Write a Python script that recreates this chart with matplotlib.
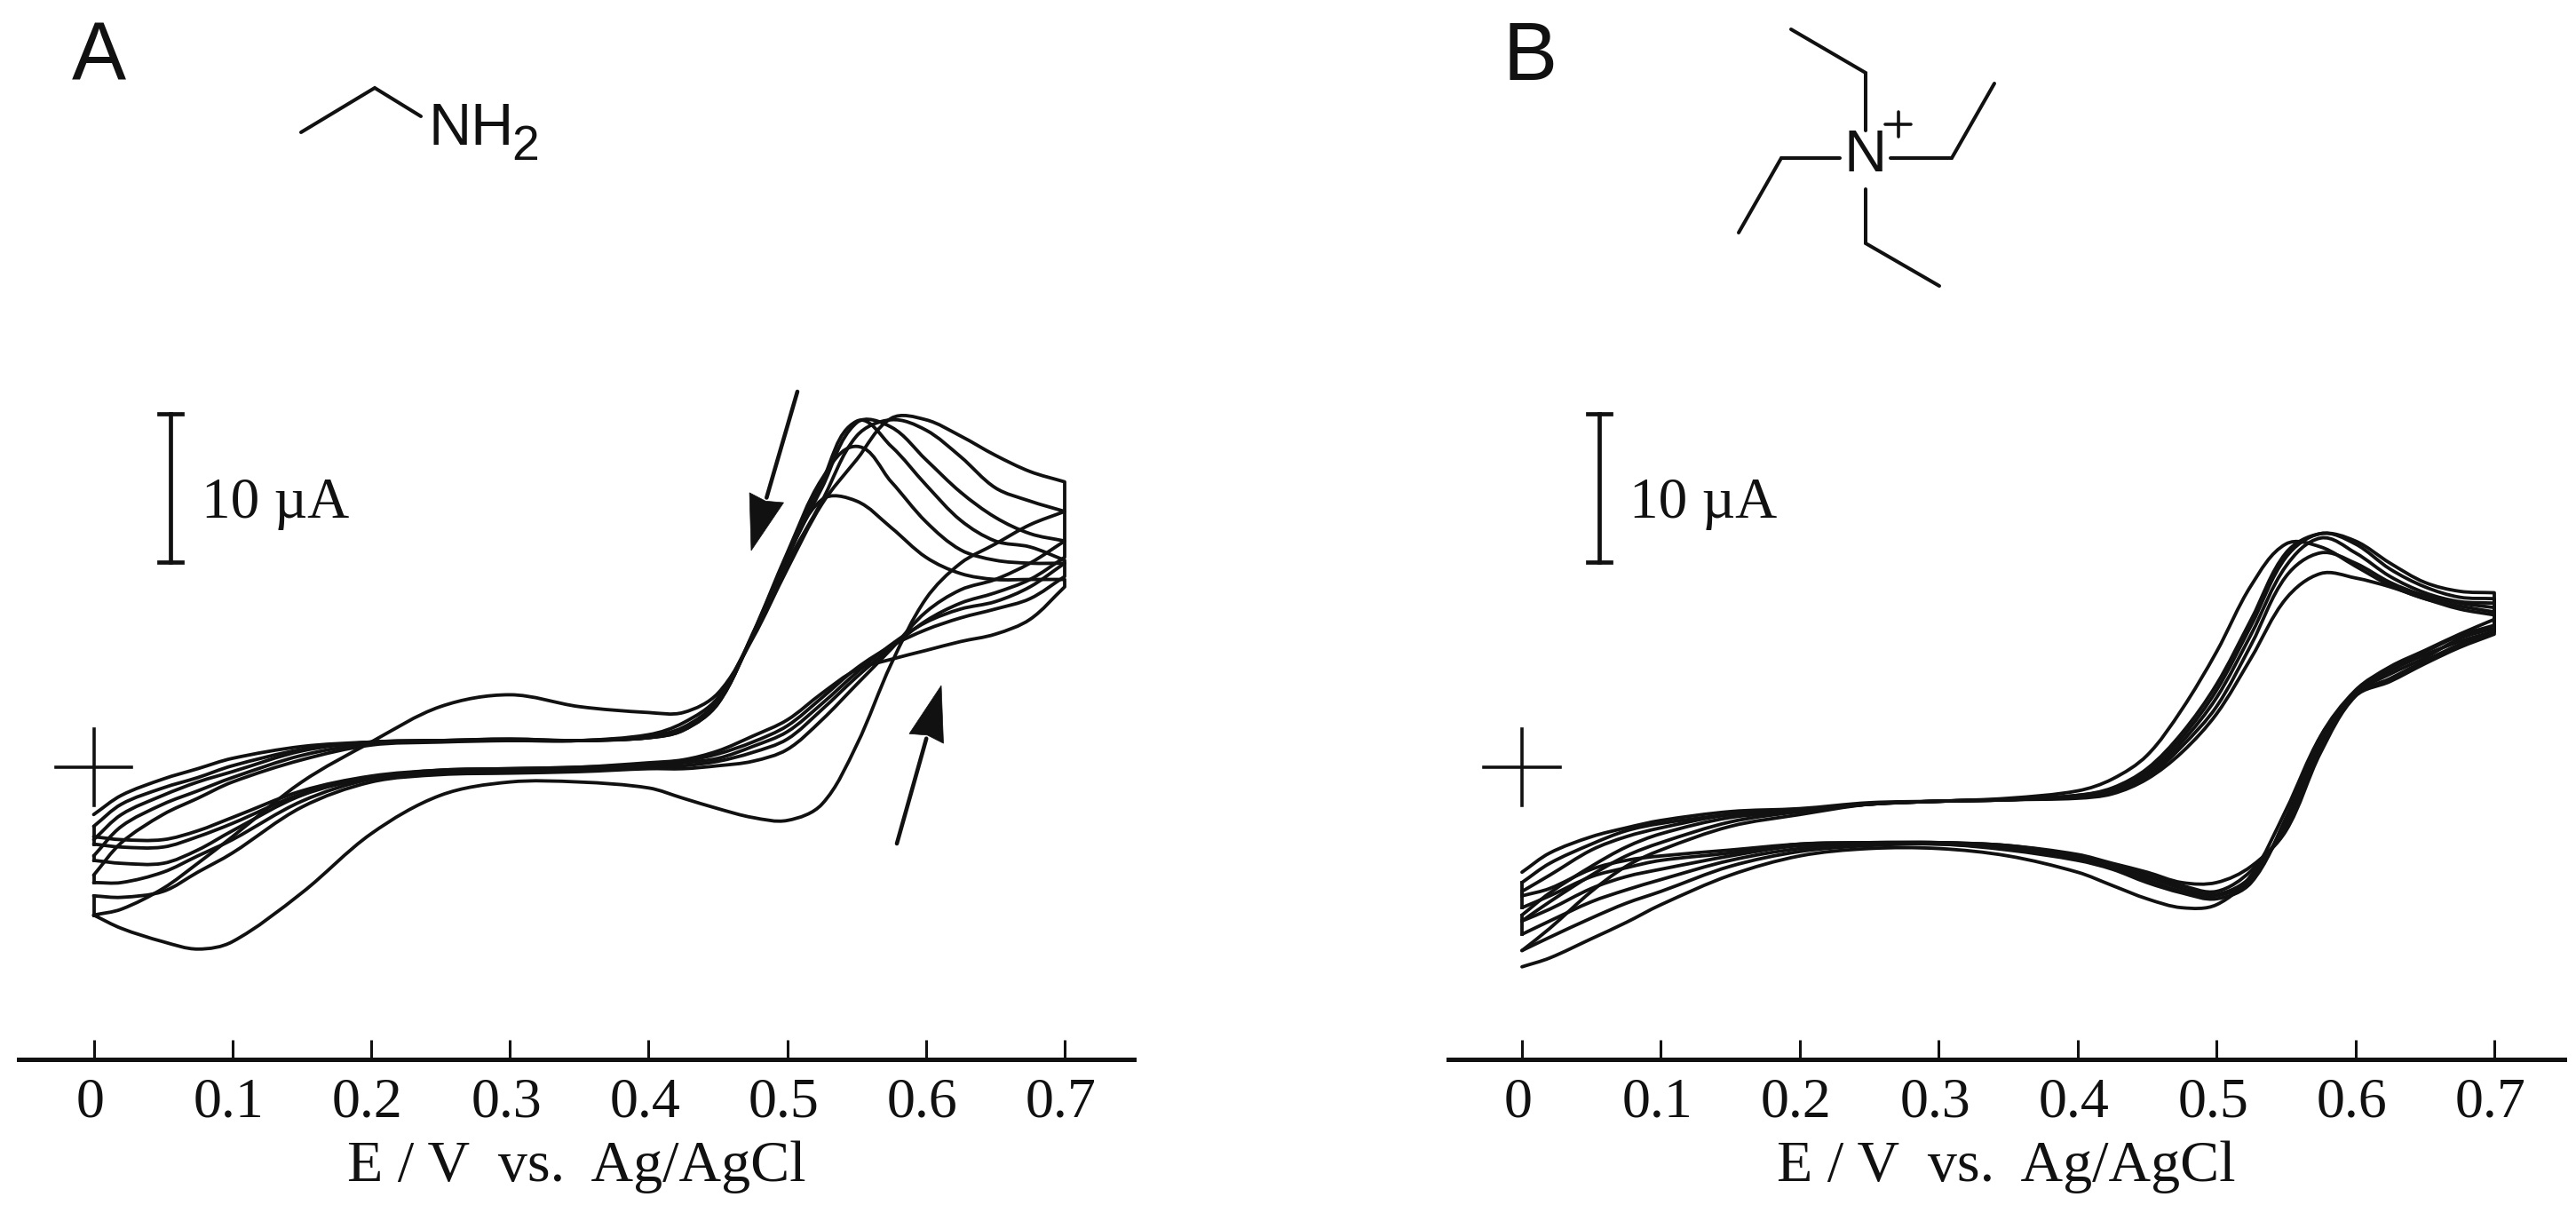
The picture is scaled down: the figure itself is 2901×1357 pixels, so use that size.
import matplotlib
matplotlib.use("Agg")
import matplotlib.pyplot as plt
import numpy as np
from matplotlib.lines import Line2D
from matplotlib.patches import Polygon, PathPatch
from matplotlib.path import Path
from matplotlib.transforms import Affine2D, ScaledTranslation

W, H = 2901, 1357
SERIF = "Liberation Serif"
SANS = "Liberation Sans"
INK = "#111111"

E_grid = [0, .02, .05, .075, .1, .15, .2, .25, .3, .35, .4, .425, .45, .475, .5, .525, .55, .575, .6, .625, .65, .675, .7]
tick_values = [0, .1, .2, .3, .4, .5, .6, .7]
tick_labels = ["0", "0.1", "0.2", "0.3", "0.4", "0.5", "0.6", "0.7"]
xlabel_text = "E / V  vs.  Ag/AgCl"
scale_text = "10 µA"

# Panel A: current (µA), cycle by cycle, on E_grid
A_forward_1 = [-10.0,-10.9,-11.8,-12.3,-11.8,-8.5,-4.5,-1.9,-1.0,-1.0,-1.4,-2.1,-2.8,-3.4,-3.6,-2.5,1.5,7.0,11.4,13.8,15.1,16.4,17.3]
A_reverse_1 = [-10.0,-9.6,-8.2,-6.5,-4.7,-1.0,1.7,4.1,4.9,4.1,3.7,3.7,5.0,8.7,13.4,17.8,20.8,23.6,23.5,22.4,21.1,20.0,19.3]
A_forward_2 = [-8.7,-8.8,-8.4,-7.1,-5.8,-2.7,-1.0,-0.5,-0.4,-0.3,-0.1,-0.1,0.1,0.4,1.2,3.2,5.6,8.0,10.5,12.0,12.7,13.8,15.3]
A_reverse_2 = [-7.3,-5.1,-3.2,-2.1,-1.0,0.5,1.5,1.7,1.8,1.8,2.2,3.0,4.7,8.9,13.8,18.0,22.4,23.5,22.8,21.0,18.9,18.0,17.3]
A_forward_3 = [-7.8,-7.8,-7.1,-6.0,-4.9,-2.3,-0.8,-0.4,-0.3,-0.2,0,0.1,0.4,1.0,1.9,3.9,6.1,8.1,9.9,11.1,11.8,12.7,14.2]
A_reverse_3 = [-6.0,-4.0,-2.5,-1.6,-0.7,0.8,1.6,1.8,1.9,1.8,2.1,2.7,4.5,8.9,14.2,18.9,23.3,23.0,20.8,18.6,16.9,15.8,15.3]
A_forward_4 = [-6.3,-6.5,-6.5,-5.6,-4.3,-1.9,-0.7,-0.3,-0.2,-0.1,0.1,0.3,0.6,1.4,2.4,4.3,6.4,8.3,9.8,10.7,11.2,12.2,13.8]
A_reverse_4 = [-4.9,-3.2,-1.9,-1.0,-0.3,1.1,1.7,1.8,1.9,1.8,2.0,2.6,4.4,8.9,14.4,19.3,23.4,21.7,19.1,16.7,15.3,14.9,14.0]
A_forward_5 = [-5.2,-5.4,-5.4,-4.7,-3.8,-1.8,-0.7,-0.2,-0.1,0,0.2,0.4,0.9,1.7,2.8,4.7,6.7,8.2,9.3,10.1,10.7,11.4,12.9]
A_reverse_5 = [-4.0,-2.5,-1.4,-0.7,0.1,1.2,1.7,1.8,1.8,1.8,2.0,2.5,4.3,9.0,14.5,19.5,21.7,19.3,16.6,14.7,14.0,13.8,13.8]
A_forward_6 = [-4.7,-4.9,-4.9,-4.3,-3.4,-1.6,-0.6,-0.2,-0.1,0,0.3,0.5,1.1,2.1,3.2,5.0,6.6,7.3,7.9,8.5,9.0,10.0,12.2]
A_reverse_6 = [-3.2,-1.9,-0.8,-0.1,0.6,1.4,1.7,1.8,1.8,1.8,2.0,2.5,4.3,9.0,14.2,18.1,18.0,16.2,14.2,13.1,12.7,12.7,12.7]

# Panel B: current (µA), cycle by cycle, on E_grid
B_forward_1 = [-13.5,-12.9,-11.6,-10.5,-9.3,-7.3,-6.0,-5.5,-5.5,-6.0,-7.1,-8.0,-8.9,-9.5,-9.3,-7.3,-2.9,2.1,5.0,6.5,7.6,8.5,9.2]
B_reverse_1 = [-12.4,-10.9,-8.4,-6.7,-5.6,-4.0,-3.2,-2.5,-2.3,-2.1,-1.6,-0.8,0.8,3.9,7.8,12.3,15.1,14.9,13.6,12.3,11.4,10.9,10.5]
B_forward_2 = [-12.4,-11.5,-10.2,-9.2,-8.4,-6.7,-5.7,-5.3,-5.2,-5.6,-6.3,-6.9,-7.8,-8.5,-8.9,-7.8,-3.4,2.1,5.2,6.8,7.9,9.0,10.0]
B_reverse_2 = [-10.4,-9.1,-7.3,-6.0,-5.1,-3.7,-3.0,-2.5,-2.3,-2.2,-1.9,-1.4,-0.1,2.3,5.6,10.0,14.5,15.8,15.3,13.8,12.5,11.9,11.8]
B_forward_3 = [-11.3,-10.4,-9.1,-8.3,-7.6,-6.3,-5.5,-5.2,-5.2,-5.5,-6.2,-6.8,-7.6,-8.4,-8.7,-7.6,-3.6,1.7,5.1,6.7,7.8,8.9,9.6]
B_reverse_3 = [-10.0,-8.5,-6.7,-5.4,-4.5,-3.4,-3.0,-2.5,-2.3,-2.2,-1.9,-1.5,-0.3,2.0,5.2,9.6,14.2,15.8,15.1,13.4,12.2,11.5,11.4]
B_forward_4 = [-10.4,-9.6,-8.2,-7.4,-6.9,-6.0,-5.3,-5.2,-5.1,-5.4,-6.1,-6.7,-7.4,-8.2,-8.6,-7.4,-3.8,1.5,5.0,6.3,7.4,8.7,9.4]
B_reverse_4 = [-8.4,-7.3,-5.6,-4.7,-4.1,-3.2,-2.9,-2.5,-2.3,-2.2,-2.0,-1.6,-0.5,1.7,4.7,9.0,13.6,15.5,14.5,12.9,11.8,11.2,11.1]
B_forward_5 = [-9.5,-8.7,-7.4,-6.8,-6.3,-5.8,-5.2,-5.1,-5.1,-5.3,-6.0,-6.6,-7.3,-8.0,-8.4,-7.0,-4.0,1.4,4.9,6.0,7.2,8.3,9.2]
B_reverse_5 = [-7.8,-6.5,-5.2,-4.3,-3.8,-3.2,-2.9,-2.5,-2.3,-2.2,-2.0,-1.6,-0.7,1.4,4.1,8.3,12.9,14.5,13.8,12.5,11.6,11.1,10.8]
B_forward_6 = [-8.7,-8.2,-6.9,-6.3,-6.0,-5.6,-5.2,-5.1,-5.1,-5.3,-5.9,-6.5,-7.1,-7.8,-7.8,-6.7,-4.3,1.0,4.8,5.8,7.0,8.1,9.0]
B_reverse_6 = [-7.1,-5.8,-4.7,-4.1,-3.6,-3.0,-2.8,-2.4,-2.3,-2.2,-2.1,-1.8,-0.8,1.0,3.6,7.4,11.4,13.1,12.8,12.2,11.4,10.7,10.3]

A_cycles = [(A_forward_1, A_reverse_1), (A_forward_2, A_reverse_2), (A_forward_3, A_reverse_3),
            (A_forward_4, A_reverse_4), (A_forward_5, A_reverse_5), (A_forward_6, A_reverse_6)]
B_cycles = [(B_forward_1, B_reverse_1), (B_forward_2, B_reverse_2), (B_forward_3, B_reverse_3),
            (B_forward_4, B_reverse_4), (B_forward_5, B_reverse_5), (B_forward_6, B_reverse_6)]

fig = plt.figure(figsize=(W / 100, H / 100), dpi=100, facecolor="white")
px = Affine2D().scale(1, -1).translate(0, H)  # figure pixel frame, y downward


def branch_curve(e, i, sx, sy):
    """Bezier path through the read points: same points, rounded corners."""
    p = np.column_stack([np.asarray(e, float) * sx, np.asarray(i, float) * sy])
    tang = np.zeros_like(p)
    tang[1:-1] = p[2:] - p[:-2]
    tang[0] = p[1] - p[0]
    tang[-1] = p[-1] - p[-2]
    tang /= np.maximum(np.hypot(tang[:, 0], tang[:, 1]), 1e-9)[:, None]
    verts, codes = [tuple(p[0])], [Path.MOVETO]
    for k in range(len(p) - 1):
        h = np.hypot(*(p[k + 1] - p[k])) / 3
        verts += [tuple(p[k] + tang[k] * h), tuple(p[k + 1] - tang[k + 1] * h), tuple(p[k + 1])]
        codes += [Path.CURVE4] * 3
    v = np.array(verts) / [sx, sy]
    return v, codes


def panel(left, right, x0, x7, cycles):
    base, top, y0, per_uA = 1193, 380, 864, 16.65
    per_V = (x7 - x0) / 0.7
    ax = fig.add_axes([left / W, 1 - base / H, (right - left) / W, (base - top) / H])
    ax.patch.set_alpha(0)
    ax.set_xlim((left - x0) / per_V, (right - x0) / per_V)
    ax.set_ylim((y0 - base) / per_uA, (y0 - top) / per_uA)
    for s in ("left", "right", "top"):
        ax.spines[s].set_visible(False)
    ax.spines["bottom"].set_linewidth(3.6)
    ax.spines["bottom"].set_color(INK)
    ax.set_yticks([])
    ax.set_xticks(tick_values, tick_labels, fontfamily=SERIF, fontsize=46, color=INK)
    ax.tick_params(axis="x", direction="in", length=16, width=2.2, color=INK, pad=15)
    shift = ScaledTranslation(-4 / 100, 0, fig.dpi_scale_trans)
    for lab in ax.get_xticklabels():
        lab.set_transform(lab.get_transform() + shift)
    ax.set_xlabel(xlabel_text, fontfamily=SERIF, fontsize=47.5, color=INK, labelpad=9)
    for fwd, rev in cycles:
        v1, c1 = branch_curve(E_grid, fwd, per_V, per_uA)
        v2, c2 = branch_curve(E_grid[::-1], rev[::-1], per_V, per_uA)
        c2 = [Path.LINETO] + c2[1:]  # vertical step at the switching potential
        path = Path(np.vstack([v1, v2]), c1 + c2)
        ax.add_patch(PathPatch(path, fill=False, ec=INK, lw=2.75, joinstyle="round", capstyle="round"))
    for k in range(len(cycles) - 1):
        ax.plot([0, 0], [cycles[k][1][0], cycles[k + 1][0][0]], color=INK, lw=2.75)
    # origin cross
    ax.plot([-.0275, .0275], [0, 0], color=INK, lw=2.6)
    ax.plot([0, 0], [-2.6, 2.6], color=INK, lw=2.6)
    # 10 µA scale bar
    bx = .0555
    ax.plot([bx, bx], [13.9, 23.9], color=INK, lw=3.4)
    for yy in (13.9, 23.9):
        ax.plot([bx - .0085, bx + .0085], [yy, yy], color=INK, lw=3.4)
    ax.text(bx + .022, 17.8, scale_text, fontfamily=SERIF, fontsize=47, color=INK, va="center", ha="left")
    return ax


panel(21, 1277, 105.5, 1199, A_cycles)
panel(1631, 2888, 1714, 2809, B_cycles)


def seg(points, lw=2.9):
    xs, ys = zip(*points)
    fig.add_artist(Line2D(xs, ys, transform=px, color=INK, lw=lw, solid_joinstyle="miter", solid_capstyle="round"))


def label(x, y, s, size, **kw):
    fig.text(x, y, s, transform=px, fontfamily=SANS, fontsize=size, color=INK, ha="left", va="baseline", **kw)


def arrow(tail, tip, head_len=62, half=20):
    t, h = np.array(tail, float), np.array(tip, float)
    u = (h - t) / np.hypot(*(h - t))
    n = np.array([-u[1], u[0]])
    b = h - u * head_len
    seg([tail, tuple(b)], lw=3.3)
    fig.add_artist(Polygon([tuple(h), tuple(b + n * half), tuple(b + u * 4), tuple(b - n * half)],
                           closed=True, transform=px, fc=INK, ec=INK, lw=0.5))


arrow((898, 441), (846, 620))
arrow((1010, 950), (1060, 772))

label(81, 90, "A", 66)
label(1693, 90, "B", 66)

# ethylamine
seg([(339, 149), (422, 99), (474, 131)])
label(483, 163, "NH", 48)
label(576, 180, "2", 40)

# tetraethylammonium
seg([(2101, 147), (2101, 82), (2017, 33)])
seg([(2129, 178), (2198, 178), (2246, 94)])
seg([(2072, 178), (2006, 178), (1958, 262)])
seg([(2101, 213), (2101, 274), (2184, 322)])
label(2077, 193, "N", 48)
seg([(2123, 140), (2152, 140)], lw=2.6)
seg([(2137.5, 126), (2137.5, 154)], lw=2.6)

fig.savefig("out.png", dpi=100, facecolor="white")
